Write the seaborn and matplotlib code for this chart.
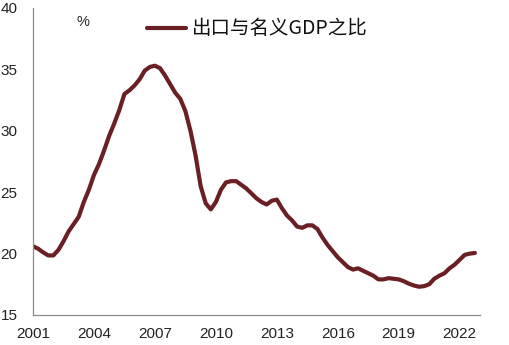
import numpy as np
import pandas as pd
import matplotlib
matplotlib.use("Agg")
import matplotlib.pyplot as plt
import seaborn as sns

# Quarterly ratio of exports to nominal GDP (%), 2001Q1 - 2022Q4
quarters = [f"{y}Q{q}" for y in range(2001, 2023) for q in range(1, 5)]
ratio = [
    20.6, 20.4, 20.1, 19.85,   # 2001
    19.85, 20.3, 21.0, 21.8,   # 2002
    22.4, 23.0, 24.2, 25.2,    # 2003
    26.4, 27.3, 28.4, 29.6,    # 2004
    30.6, 31.7, 33.0, 33.3,    # 2005
    33.7, 34.2, 34.9, 35.2,    # 2006
    35.3, 35.1, 34.5, 33.8,    # 2007
    33.1, 32.6, 31.6, 30.0,    # 2008
    28.0, 25.5, 24.1, 23.6,    # 2009
    24.2, 25.2, 25.8, 25.9,    # 2010
    25.9, 25.6, 25.3, 24.9,    # 2011
    24.5, 24.2, 24.0, 24.3,    # 2012
    24.4, 23.7, 23.1, 22.7,    # 2013
    22.2, 22.1, 22.3, 22.3,    # 2014
    22.0, 21.3, 20.7, 20.2,    # 2015
    19.7, 19.3, 18.9, 18.7,    # 2016
    18.8, 18.6, 18.4, 18.2,    # 2017
    17.9, 17.9, 18.0, 17.95,   # 2018
    17.9, 17.75, 17.55, 17.4,  # 2019
    17.3, 17.35, 17.5, 17.95,  # 2020
    18.2, 18.4, 18.8, 19.1,    # 2021
    19.5, 19.9, 20.0, 20.05,   # 2022
]
series_label = "出口与名义GDP之比"
x_ticks = [2001, 2004, 2007, 2010, 2013, 2016, 2019, 2022]
y_ticks = [15, 20, 25, 30, 35, 40]

years = [int(s[:4]) + (int(s[-1]) - 1) / 4 for s in quarters]
df = pd.DataFrame({"t": years, "ratio": ratio})

sns.set_theme(style="white")
plt.rcParams["font.family"] = ["Liberation Sans", "Noto Sans CJK SC", "DejaVu Sans"]

fig = plt.figure(figsize=(5.09, 3.45), dpi=100)
ax = fig.add_axes([33 / 509, 1 - 315 / 345, (480 - 33) / 509, (315 - 8) / 345])

line_color = "#6A1F24"
sns.lineplot(data=df, x="t", y="ratio", ax=ax, color=line_color,
             linewidth=3.0, label=series_label, solid_capstyle="round")

ax.set_xlim(2001, 2023)
ax.set_ylim(15, 40)
ax.set_xticks(x_ticks)
ax.set_yticks(y_ticks)
ax.set_xlabel("")
ax.set_ylabel("")

for side in ("top", "right"):
    ax.spines[side].set_visible(False)
for side in ("left", "bottom"):
    ax.spines[side].set_color("#8c8c8c")
    ax.spines[side].set_linewidth(0.9)

ax.tick_params(axis="x", direction="in", length=5, width=0.8, color="#8c8c8c",
               labelsize=11, labelcolor="#222222", pad=9)
ax.tick_params(axis="y", direction="out", length=2, width=0.8, color="#8c8c8c",
               labelsize=11, labelcolor="#222222", pad=9)

ax.text(83 / 509, 1 - 22 / 345, "%", transform=fig.transFigure,
        ha="center", va="center", fontsize=10.5, color="#222222")

leg = ax.legend(loc="center left", bbox_to_anchor=(147 / 509, 1 - 29 / 345),
                bbox_transform=fig.transFigure, frameon=False,
                borderpad=0, borderaxespad=0, handlelength=2.0,
                handletextpad=0.3,
                prop={"family": ["Noto Sans CJK SC"], "size": 14})
for t in leg.get_texts():
    t.set_color("#111111")

fig.savefig("out.png", dpi=100)
